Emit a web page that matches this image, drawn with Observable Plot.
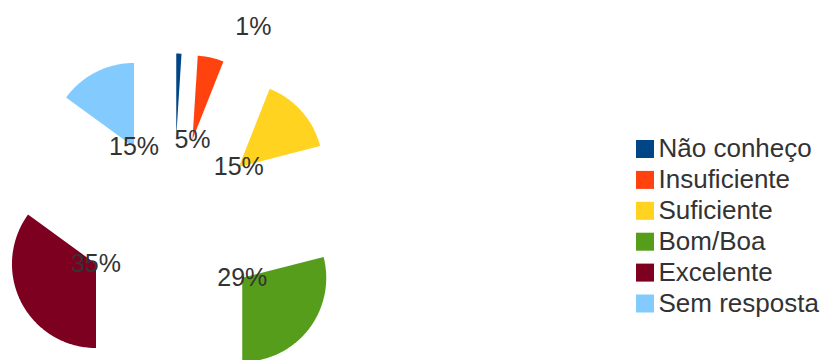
<!DOCTYPE html>
<html><head><meta charset="utf-8">
<script src="https://cdn.jsdelivr.net/npm/d3@7"></script>
<script src="https://cdn.jsdelivr.net/npm/@observablehq/plot@0.6"></script>
<style>body{margin:0;background:#fff}</style>
</head><body><div id="chart"></div>
<script>
const categories = ["Não conheço", "Insuficiente", "Suficiente", "Bom/Boa", "Excelente", "Sem resposta"];
const values = [1, 5, 15, 29, 35, 15];
const colors = ["#004586", "#ff420e", "#ffd320", "#579d1c", "#7e0021", "#83caff"];
const labels = ["1%", "5%", "15%", "29%", "35%", "15%"];

// layout
const W = 825, H = 360;
const cx = 173, cy = 224, R = 84, explode = 87;
const tinyLabel = {angle: 22 * Math.PI / 180, dist: 213};
const legendX = 644.5, legendTextX = 658, legendY0 = 148.5, legendStep = 30.9, swatch = 18;

const arcs = d3.pie().sort(null).value(d => d)(values);
const pt = (a, r, ox, oy) => [ox + r * Math.sin(a), oy - r * Math.cos(a)];
const slicePts = [];
const labelPts = [];
arcs.forEach((arc, i) => {
  const mid = (arc.startAngle + arc.endAngle) / 2;
  const [ax, ay] = pt(mid, explode, cx, cy);
  slicePts.push({cat: categories[i], x: ax, y: ay});
  const n = Math.max(2, Math.ceil((arc.endAngle - arc.startAngle) / (Math.PI / 180)));
  for (let k = 0; k <= n; k++) {
    const a = arc.startAngle + (arc.endAngle - arc.startAngle) * k / n;
    const [x, y] = pt(a, R, ax, ay);
    slicePts.push({cat: categories[i], x, y});
  }
  if (values[i] < 2) {
    const [lx, ly] = pt(tinyLabel.angle, tinyLabel.dist, cx, cy);
    labelPts.push({x: lx, y: ly, text: labels[i]});
  } else {
    labelPts.push({x: ax, y: ay, text: labels[i]});
  }
});

const chart = Plot.plot({
  width: W, height: H, margin: 0,
  x: {domain: [0, W], range: [0, W], axis: null},
  y: {domain: [0, H], range: [0, H], axis: null},
  color: {domain: categories, range: colors},
  style: {fontFamily: "'Liberation Sans', Arial, sans-serif", background: "#fff"},
  marks: [
    Plot.line(slicePts, {x: "x", y: "y", z: "cat", fill: "cat", stroke: "none", curve: "linear-closed"}),
    Plot.text(labelPts, {x: "x", y: "y", text: "text", fontSize: 25, fill: "#333", textAnchor: "middle", lineAnchor: "middle"}),
    Plot.dot(categories, {x: () => legendX, y: (d, i) => legendY0 + i * legendStep, symbol: "square", r: swatch / Math.sqrt(Math.PI), fill: d => d}),
    Plot.text(categories, {x: () => legendTextX, y: (d, i) => legendY0 + i * legendStep, text: d => d, textAnchor: "start", lineAnchor: "middle", fontSize: 26, fill: "#333"})
  ]
});
document.getElementById("chart").append(chart);
</script>
</body></html>
